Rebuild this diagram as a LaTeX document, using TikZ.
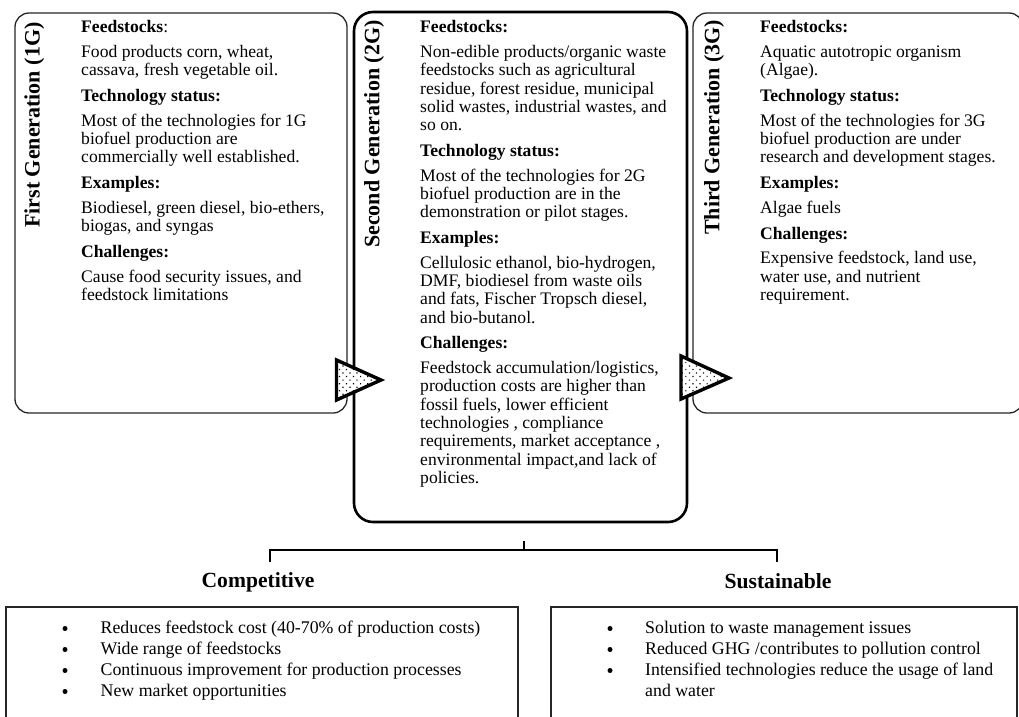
\documentclass[tikz,border=0pt]{standalone}
\usepackage{fontspec}
\setmainfont{Liberation Serif}
\usetikzlibrary{patterns.meta}
\begin{document}
\begin{tikzpicture}[x=1pt,y=-1pt,
  thinbox/.style={draw=black!85, line width=1.3pt, rounded corners=14pt},
  thickbox/.style={draw=black, line width=2.6pt, rounded corners=19pt},
  coltext/.style={anchor=north west, inner sep=0pt, align=left, font=\fontsize{17.6}{18.3}\selectfont},
  genlabel/.style={rotate=90, anchor=base west, inner sep=0pt, font=\bfseries\fontsize{22}{26}\selectfont},
  arrowtri/.style={line width=3.4pt, line join=miter, preaction={fill=white}, pattern={Dots[distance=5pt,radius=0.85pt,angle=45]}},
  bracketline/.style={line width=2.8pt},
  sumhead/.style={anchor=base, inner sep=0pt, font=\bfseries\fontsize{21.6}{26}\selectfont},
  listbox/.style={draw=black!85, line width=1.1pt},
  itemtext/.style={anchor=base west, inner sep=0pt, font=\fontsize{17.8}{21}\selectfont},
  bulletdot/.style={fill=black, circle, inner sep=0pt, minimum size=5pt}
]
\clip (0,0) rectangle (1019,716);
\fill[white] (0,0) rectangle (1019,716);

% generation boxes
\draw[thinbox] (15,13) rectangle (347,413);
\draw[thinbox] (693,13) rectangle (1023,413);
\draw[thickbox] (354,12) rectangle (687,522);

% vertical labels
\node[genlabel] (g1) at (39.5,228) {First Generation (1G)};
\node[genlabel] (g2) at (379.3,248) {Second Generation (2G)};
\node[genlabel] (g3) at (719.3,235) {Third Generation (3G)};

% column texts
\node[coltext] (t1) at (81,19.7) {\strut\textbf{Feedstocks}:\\[6.4pt]
Food products corn, wheat,\\
cassava, fresh vegetable oil.\\[7.5pt]
\textbf{Technology status:}\\[6.4pt]
Most of the technologies for 1G\\
biofuel production are\\
commercially well established.\\[7.5pt]
\textbf{Examples:}\\[6.4pt]
Biodiesel, green diesel, bio-ethers,\\
biogas, and syngas\\[7.5pt]
\textbf{Challenges:}\\[6.4pt]
Cause food security issues, and\\
feedstock limitations};

\node[coltext] (t2) at (420,19.7) {\strut\textbf{Feedstocks:}\\[6.4pt]
Non-edible products/organic waste\\
feedstocks such as agricultural\\
residue, forest residue, municipal\\
solid wastes, industrial wastes, and\\
so on.\\[7.5pt]
\textbf{Technology status:}\\[6.4pt]
Most of the technologies for 2G\\
biofuel production are in the\\
demonstration or pilot stages.\\[7.5pt]
\textbf{Examples:}\\[6.4pt]
Cellulosic ethanol, bio-hydrogen,\\
DMF, biodiesel from waste oils\\
and fats, Fischer Tropsch diesel,\\
and bio-butanol.\\[7.5pt]
\textbf{Challenges:}\\[6.4pt]
Feedstock accumulation/logistics,\\
production costs are higher than\\
fossil fuels, lower efficient\\
technologies , compliance\\
requirements, market acceptance ,\\
environmental impact,and lack of\\
policies.};

\node[coltext] (t3) at (760,19.7) {\strut\textbf{Feedstocks:}\\[6.4pt]
Aquatic autotropic organism\\
(Algae).\\[7.5pt]
\textbf{Technology status:}\\[6.4pt]
Most of the technologies for 3G\\
biofuel production are under\\
research and development stages.\\[7.5pt]
\textbf{Examples:}\\[6.4pt]
Algae fuels\\[7.5pt]
\textbf{Challenges:}\\[6.4pt]
Expensive feedstock, land use,\\
water use, and nutrient\\
requirement.};

% arrow triangles
\draw[arrowtri] (336.5,360) -- (336.5,400) -- (381,380) -- cycle;
\draw[arrowtri] (681,356) -- (681,399) -- (729,378) -- cycle;

% bracket
\coordinate (bstem) at (524,541);
\coordinate (bmid) at (524,550);
\coordinate (blt) at (270,550);
\coordinate (brt) at (777,550);
\coordinate (blb) at (270,562);
\coordinate (brb) at (777,562);
\draw[bracketline] (blb) -- (blt) -- (brt) -- (brb);
\draw[bracketline] (bmid) -- (bstem);

% headings
\node[sumhead] (comp) at (258,587) {Competitive};
\node[sumhead] (sust) at (778,588) {Sustainable};

% list boxes
\draw[listbox] (6,607) rectangle (518,740);
\draw[listbox] (551,607) rectangle (1017,740);

% competitive items
\node[bulletdot] (cb1) at (65,628.5) {};
\node[bulletdot] (cb2) at (65,649.5) {};
\node[bulletdot] (cb3) at (65,670.5) {};
\node[bulletdot] (cb4) at (65,691.5) {};
\node[itemtext] (c1) at (100.5,633.5) {Reduces feedstock cost (40-70\% of production costs)};
\node[itemtext] (c2) at (100.5,654.5) {Wide range of feedstocks};
\node[itemtext] (c3) at (100.5,675.5) {Continuous improvement for production processes};
\node[itemtext] (c4) at (100.5,696.5) {New market opportunities};

% sustainable items
\node[bulletdot] (sb1) at (610,628.5) {};
\node[bulletdot] (sb2) at (610,649.5) {};
\node[bulletdot] (sb3) at (610,670.5) {};
\node[itemtext] (s1) at (645,633.5) {Solution to waste management issues};
\node[itemtext] (s2) at (645,654.5) {Reduced GHG /contributes to pollution control};
\node[itemtext] (s3) at (645,675.5) {Intensified technologies reduce the usage of land};
\node[itemtext] (s4) at (645,696.5) {and water};
\end{tikzpicture}
\end{document}
